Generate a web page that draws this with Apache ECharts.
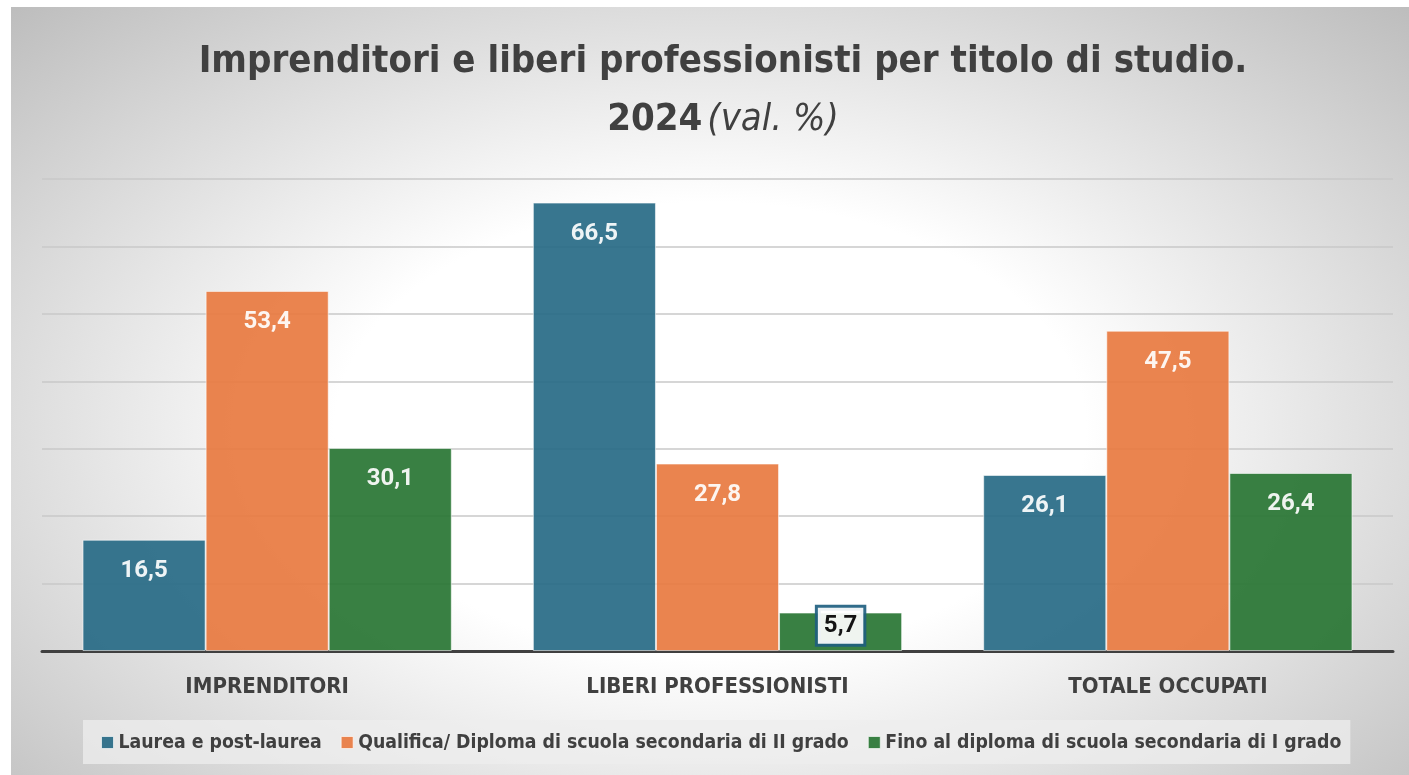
<!DOCTYPE html>
<html>
<head>
<meta charset="utf-8">
<title>Imprenditori e liberi professionisti per titolo di studio</title>
<script src="https://cdn.jsdelivr.net/npm/echarts@6/dist/echarts.min.js"></script>
<style>
    html, body { margin: 0; padding: 0; background: #fff; }
    #bg {
        position: absolute; left: 11px; top: 7px; width: 1398px; height: 768px;
        background: radial-gradient(ellipse farthest-corner at 50% 55%, #ffffff 0%, #ffffff 38%, #bdbdbd 100%);
    }
    #main { position: absolute; left: 0; top: 0; width: 1409px; height: 775px; }
</style>
</head>
<body>
<div id="bg"></div>
<div id="main"></div>
<script>
const categories = ['IMPRENDITORI', 'LIBERI PROFESSIONISTI', 'TOTALE OCCUPATI'];
const seriesNames = [
    'Laurea e post-laurea',
    'Qualifica/ Diploma di scuola secondaria di II grado',
    'Fino al diploma di scuola secondaria di I grado'
];
const laurea = [16.5, 66.5, 26.1];
const diploma = [53.4, 27.8, 47.5];
const finoDiploma = [30.1, 5.7, 26.4];
const colors = ['#276a86', '#e87a40', '#287533'];

const narrow = '"DejaVu Sans Condensed", "Liberation Sans", sans-serif';

function fmt(p) {
    return String(p.value).replace('.', ',');
}

// small bars get the boxed label above the baseline
function toData(values) {
    return values.map(function (v) {
        if (v >= 10) return v;
        return {
            value: v,
            label: {
                position: 'inside',
                offset: [0, -6],
                color: '#000',
                backgroundColor: '#fff',
                borderColor: '#1f5f80',
                borderWidth: 3,
                padding: [6, 6, 6, 6]
            }
        };
    });
}

const myChart = echarts.init(document.getElementById('main'));

const series = [laurea, diploma, finoDiploma].map(function (vals, i) {
    return {
        name: seriesNames[i],
        type: 'bar',
        barGap: '0%',
        barCategoryGap: '18%',
        itemStyle: {
            color: colors[i],
            opacity: 0.92,
            borderColor: 'rgba(255,255,255,0.6)',
            borderWidth: 1
        },
        label: {
            show: true,
            position: 'insideTop',
            distance: 19,
            formatter: fmt,
            color: '#fff',
            fontFamily: 'Roboto, sans-serif',
            fontWeight: 'bold',
            fontSize: 24
        },
        data: toData(vals)
    };
});

const options = {
    animation: false,
    title: {
        left: 718,
        top: 28,
        textAlign: 'center',
        text: '{b|Imprenditori e liberi professionisti per titolo di studio.}\n{b|2024} {i|(val. %)}',
        textStyle: {
            rich: {
                b: { fontFamily: narrow, fontWeight: 'bold', fontSize: 38, color: '#404040', lineHeight: 58 },
                i: { fontFamily: narrow, fontWeight: 'normal', fontStyle: 'italic', fontSize: 38, color: '#404040', lineHeight: 58 }
            }
        }
    },
    legend: {
        data: seriesNames,
        left: 83,
        top: 720,
        padding: [13, 9, 12, 18],
        backgroundColor: 'rgba(238,238,238,0.75)',
        itemGap: 19,
        itemWidth: 12,
        itemHeight: 12,
        icon: 'rect',
        itemStyle: { borderColor: 'rgba(255,255,255,0.7)', borderWidth: 1 },
        textStyle: { fontFamily: narrow, fontWeight: 'bold', fontSize: 19.3, color: '#404040' }
    },
    grid: { left: 42, right: 16, top: 179, bottom: 124 },
    xAxis: {
        type: 'category',
        data: categories,
        axisTick: { show: false },
        axisLine: { lineStyle: { color: '#404040', width: 3 } },
        axisLabel: {
            margin: 25,
            fontFamily: narrow,
            fontWeight: 'bold',
            fontSize: 22,
            color: '#404040'
        }
    },
    yAxis: {
        type: 'value',
        min: 0,
        max: 70,
        interval: 10,
        axisLabel: { show: false },
        axisLine: { show: false },
        axisTick: { show: false },
        splitLine: { lineStyle: { color: '#c8c8c8', width: 1.5 } }
    },
    series: series
};
myChart.setOption(options);
</script>
</body>
</html>
